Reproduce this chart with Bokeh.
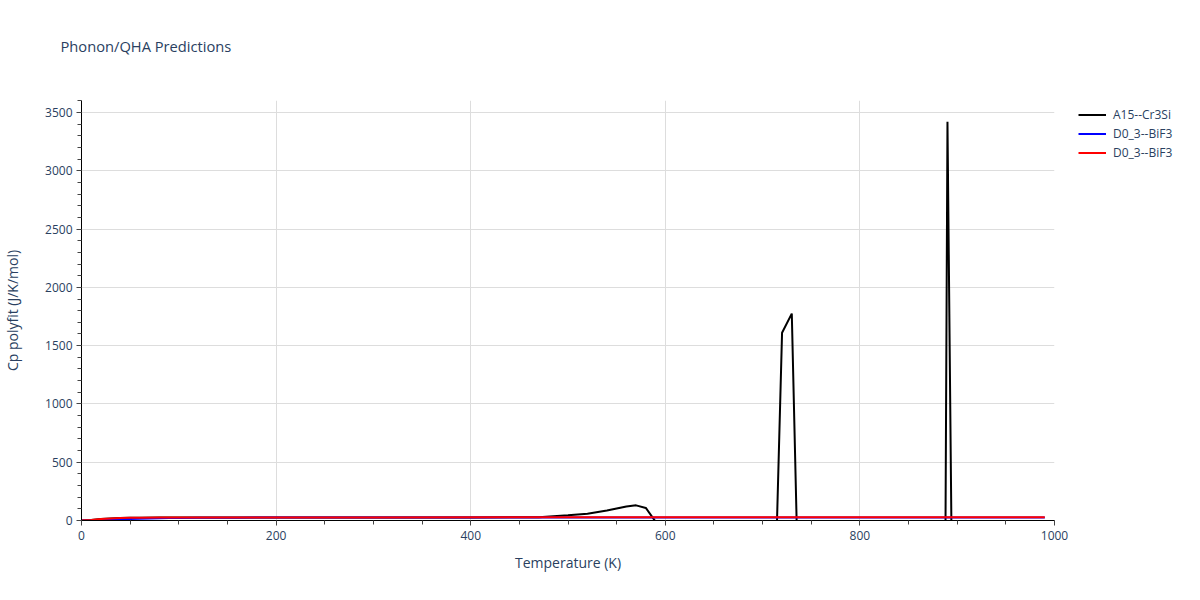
from bokeh.plotting import figure
from bokeh.models import Range1d, Legend, LegendItem, SingleIntervalTicker, Title
from bokeh.embed import file_html
from bokeh.resources import INLINE

# A15--Cr3Si (black)
t_a15 = [0, 10, 20, 30, 40, 50, 60, 80, 100, 200, 300, 400, 470, 500, 520, 540, 560, 570, 580, 590,
         600, 650, 700, 710, 720, 730, 740, 800, 870, 880, 890, 900, 950, 990]
cp_a15 = [0, 4, 12, 18, 21.5, 23, 24, 25, 25.5, 26, 26, 26.5, 28, 45, 58, 85, 120, 130, 108, -10,
          -400, -1200, -1500, -1500, 1610, 1775, -1800, -3000, -9000, -13680, 3420, -5130, -3000, -2000]

# D0_3--BiF3 (blue)
t_bif3_b = [0, 10, 20, 30, 40, 50, 60, 70, 80, 90, 100, 120, 140, 160, 200, 300, 500, 700, 990]
cp_bif3_b = [0, 1, 3, 6, 9, 12, 15, 17, 19, 20.5, 21.5, 23, 24, 24.5, 25, 25.5, 26, 26, 26]

# D0_3--BiF3 (red)
t_bif3_r = [0, 10, 20, 30, 40, 50, 60, 80, 100, 200, 300, 500, 700, 990]
cp_bif3_r = [0, 4, 12, 18, 21.5, 23, 24, 25, 25.5, 26, 26.5, 27, 27, 27]

TXT = "#2a3f5f"
FONT = "Open Sans"

p = figure(frame_width=973, frame_height=420, output_backend="svg", toolbar_location=None,
           x_range=Range1d(0, 1000), y_range=Range1d(0, 3603),
           min_border_left=72, min_border_right=139, min_border_top=100, min_border_bottom=72)

spacer = Title(text=" ", text_font_size="1px", standoff=42)
main_title = Title(text="Phonon/QHA Predictions", text_font=FONT, text_font_size="14.7px",
                   text_font_style="normal", text_color=TXT, align="left", offset=-21, standoff=0)
p.add_layout(spacer, "above")
p.add_layout(main_title, "above")

p.outline_line_color = None

r1 = p.line(t_a15, cp_a15, line_color="black", line_width=2)
r2 = p.line(t_bif3_b, cp_bif3_b, line_color="blue", line_width=2)
r3 = p.line(t_bif3_r, cp_bif3_r, line_color="red", line_width=2)

p.xaxis.ticker = SingleIntervalTicker(interval=200, num_minor_ticks=4)
p.yaxis.ticker = SingleIntervalTicker(interval=500, num_minor_ticks=5)

for ax in (p.xaxis[0], p.yaxis[0]):
    ax.axis_line_color = "black"
    ax.axis_line_width = 1
    ax.major_tick_line_color = "#444444"
    ax.minor_tick_line_color = "#444444"
    ax.major_tick_in = 0
    ax.major_tick_out = 5
    ax.minor_tick_in = 0
    ax.minor_tick_out = 4
    ax.major_label_text_font = FONT
    ax.major_label_text_font_size = "12px"
    ax.major_label_text_color = TXT
    ax.axis_label_text_font = FONT
    ax.axis_label_text_font_size = "14px"
    ax.axis_label_text_font_style = "normal"
    ax.axis_label_text_color = TXT

p.xaxis.axis_label = "Temperature (K)"
p.yaxis.axis_label = "Cp polyfit (J/K/mol)"
p.xaxis.major_label_standoff = 5
p.yaxis.major_label_standoff = 4
p.xaxis.axis_label_standoff = 10
p.yaxis.axis_label_standoff = 20

p.xgrid.grid_line_color = "#dddddd"
p.ygrid.grid_line_color = "#dddddd"

legend = Legend(items=[LegendItem(label="A15--Cr3Si", renderers=[r1]),
                       LegendItem(label="D0_3--BiF3", renderers=[r2]),
                       LegendItem(label="D0_3--BiF3", renderers=[r3])],
                location=(24, 358))
legend.border_line_color = None
legend.background_fill_alpha = 0
legend.margin = 0
legend.padding = 0
legend.spacing = 0
legend.glyph_width = 28
legend.glyph_height = 19
legend.label_height = 19
legend.label_standoff = 7
legend.label_text_font = FONT
legend.label_text_font_size = "12px"
legend.label_text_color = TXT
p.add_layout(legend, "right")

open("out.html", "w").write(file_html(p, INLINE))
